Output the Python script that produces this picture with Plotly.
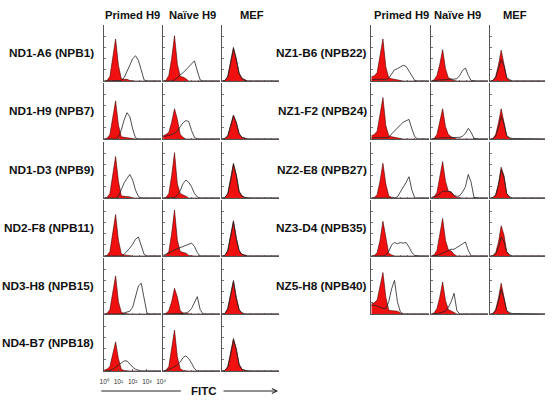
import plotly.graph_objects as go

# ---------------- data ----------------
# FITC intensity bins (log10 decades, 10^0 .. 10^4)
FITC_LOG = [0.0, 0.2, 0.4, 0.6, 0.8, 1.0, 1.2, 1.4, 1.6, 1.8, 2.0,
            2.2, 2.4, 2.6, 2.8, 3.0, 3.2, 3.4, 3.6, 3.8, 4.0]
DECADE_TICKS = [0, 1, 2, 3, 4]
DECADE_LABELS = ["10⁰", "10¹", "10²", "10³", "10⁴"]

COLUMNS = ["Primed H9", "Naïve H9", "MEF"]
LEFT_CLONES = ["ND1-A6 (NPB1)", "ND1-H9 (NPB7)", "ND1-D3 (NPB9)",
               "ND2-F8 (NPB11)", "ND3-H8 (NPB15)", "ND4-B7 (NPB18)"]
RIGHT_CLONES = ["NZ1-B6 (NPB22)", "NZ1-F2 (NPB24)", "NZ2-E8 (NPB27)",
                "NZ3-D4 (NPB35)", "NZ5-H8 (NPB40)"]

# each: [Primed H9, Naive H9, MEF] event counts (% of panel height)
ND1_A6_CTRL = [
    [0, 1, 8, 38, 75, 28, 4, 3, 3, 1, 0, 0, 0, 0, 0, 0, 0, 0, 0, 0, 0],
    [0, 1, 10, 40, 81, 30, 8, 7, 4, 0, 0, 0, 0, 0, 0, 0, 0, 0, 0, 0, 0],
    [0, 1, 8, 33, 60, 40, 14, 5, 2, 0, 0, 0, 0, 0, 0, 0, 0, 0, 0, 0, 0]]
ND1_A6_STAIN = [
    [0, 0, 0, 0, 0, 0, 1, 6, 16, 28, 40, 45, 37, 18, 2, 0, 0, 0, 0, 0, 0],
    [0, 0, 0, 0, 2, 6, 10, 15, 20, 26, 32, 36, 18, 2, 0, 0, 0, 0, 0, 0, 0],
    [0, 1, 7, 31, 58, 38, 13, 4, 1, 0, 0, 0, 0, 0, 0, 0, 0, 0, 0, 0, 0]]

ND1_H9_CTRL = [
    [0, 1, 8, 35, 68, 25, 4, 3, 2, 1, 0, 0, 0, 0, 0, 0, 0, 0, 0, 0, 0],
    [6, 8, 12, 30, 54, 35, 8, 3, 0, 0, 0, 0, 0, 0, 0, 0, 0, 0, 0, 0, 0],
    [0, 1, 6, 24, 43, 30, 10, 3, 1, 0, 0, 0, 0, 0, 0, 0, 0, 0, 0, 0, 0]]
ND1_H9_STAIN = [
    [0, 0, 0, 0, 0, 4, 16, 34, 47, 40, 18, 2, 0, 0, 0, 0, 0, 0, 0, 0, 0],
    [4, 5, 6, 8, 10, 14, 22, 29, 33, 31, 15, 3, 0, 0, 0, 0, 0, 0, 0, 0, 0],
    [0, 1, 5, 22, 41, 29, 9, 3, 1, 0, 0, 0, 0, 0, 0, 0, 0, 0, 0, 0, 0]]

ND1_D3_CTRL = [
    [0, 1, 8, 38, 74, 30, 4, 3, 3, 2, 0, 0, 0, 0, 0, 0, 0, 0, 0, 0, 0],
    [0, 1, 8, 40, 81, 25, 8, 6, 3, 0, 0, 0, 0, 0, 0, 0, 0, 0, 0, 0, 0],
    [0, 1, 8, 32, 62, 42, 12, 4, 1, 0, 0, 0, 0, 0, 0, 0, 0, 0, 0, 0, 0]]
ND1_D3_STAIN = [
    [0, 0, 0, 0, 0, 3, 15, 27, 35, 42, 32, 14, 3, 0, 0, 0, 0, 0, 0, 0, 0],
    [0, 0, 0, 0, 1, 5, 13, 26, 32, 28, 20, 8, 2, 0, 0, 0, 0, 0, 0, 0, 0],
    [0, 1, 7, 30, 60, 40, 11, 3, 1, 0, 0, 0, 0, 0, 0, 0, 0, 0, 0, 0, 0]]

ND2_F8_CTRL = [
    [0, 1, 8, 38, 74, 28, 4, 2, 1, 0, 0, 0, 0, 0, 0, 0, 0, 0, 0, 0, 0],
    [0, 1, 8, 40, 82, 28, 8, 7, 5, 1, 0, 0, 0, 0, 0, 0, 0, 0, 0, 0, 0],
    [0, 1, 10, 38, 63, 33, 10, 3, 1, 0, 0, 0, 0, 0, 0, 0, 0, 0, 0, 0, 0]]
ND2_F8_STAIN = [
    [0, 0, 0, 0, 0, 0, 0, 3, 8, 14, 21, 30, 34, 20, 3, 0, 0, 0, 0, 0, 0],
    [1, 3, 5, 8, 11, 13, 16, 18, 20, 22, 23, 17, 6, 0, 0, 0, 0, 0, 0, 0, 0],
    [0, 1, 9, 36, 61, 31, 9, 3, 1, 0, 0, 0, 0, 0, 0, 0, 0, 0, 0, 0, 0]]

ND3_H8_CTRL = [
    [0, 1, 8, 35, 68, 22, 3, 1, 0, 0, 0, 0, 0, 0, 0, 0, 0, 0, 0, 0, 0],
    [0, 1, 6, 22, 46, 30, 6, 2, 1, 0, 0, 0, 0, 0, 0, 0, 0, 0, 0, 0, 0],
    [0, 1, 10, 38, 60, 30, 8, 2, 0, 0, 0, 0, 0, 0, 0, 0, 0, 0, 0, 0, 0]]
ND3_H8_STAIN = [
    [0, 0, 0, 0, 0, 0, 0, 2, 3, 5, 12, 32, 50, 55, 28, 2, 0, 0, 0, 0, 0],
    [0, 0, 0, 0, 0, 0, 0, 1, 2, 4, 10, 22, 31, 8, 0, 0, 0, 0, 0, 0, 0],
    [0, 1, 9, 36, 58, 28, 7, 2, 0, 0, 0, 0, 0, 0, 0, 0, 0, 0, 0, 0, 0]]

ND4_B7_CTRL = [
    [2, 3, 8, 28, 52, 22, 3, 1, 0, 0, 0, 0, 0, 0, 0, 0, 0, 0, 0, 0, 0],
    [0, 1, 8, 38, 73, 25, 4, 1, 0, 0, 0, 0, 0, 0, 0, 0, 0, 0, 0, 0, 0],
    [0, 1, 8, 30, 58, 40, 12, 3, 1, 0, 0, 0, 0, 0, 0, 0, 0, 0, 0, 0, 0]]
ND4_B7_STAIN = [
    [0, 0, 1, 3, 7, 11, 14, 18, 18, 12, 7, 3, 1, 0, 0, 0, 0, 0, 0, 0, 0],
    [0, 1, 3, 5, 8, 11, 16, 24, 27, 22, 14, 4, 0, 0, 0, 0, 0, 0, 0, 0, 0],
    [0, 1, 7, 28, 56, 38, 11, 3, 1, 0, 0, 0, 0, 0, 0, 0, 0, 0, 0, 0, 0]]

NZ1_B6_CTRL = [
    [8, 9, 15, 45, 75, 25, 6, 4, 3, 2, 0, 0, 0, 0, 0, 0, 0, 0, 0, 0, 0],
    [0, 2, 10, 30, 56, 22, 6, 3, 1, 0, 0, 0, 0, 0, 0, 0, 0, 0, 0, 0, 0],
    [0, 1, 8, 28, 55, 30, 6, 2, 0, 0, 0, 0, 0, 0, 0, 0, 0, 0, 0, 0, 0]]
NZ1_B6_STAIN = [
    [2, 3, 3, 3, 3, 3, 5, 12, 20, 22, 25, 28, 26, 18, 8, 1, 0, 0, 0, 0, 0],
    [0, 1, 1, 2, 2, 3, 3, 3, 3, 4, 10, 19, 23, 10, 1, 0, 0, 0, 0, 0, 0],
    [0, 1, 6, 20, 38, 28, 6, 2, 0, 0, 0, 0, 0, 0, 0, 0, 0, 0, 0, 0, 0]]

NZ1_F2_CTRL = [
    [6, 8, 14, 42, 74, 24, 6, 4, 3, 2, 0, 0, 0, 0, 0, 0, 0, 0, 0, 0, 0],
    [0, 1, 8, 30, 54, 22, 8, 4, 2, 0, 0, 0, 0, 0, 0, 0, 0, 0, 0, 0, 0],
    [0, 1, 8, 28, 54, 30, 6, 2, 0, 0, 0, 0, 0, 0, 0, 0, 0, 0, 0, 0, 0]]
NZ1_F2_STAIN = [
    [2, 2, 2, 2, 2, 2, 3, 9, 15, 20, 25, 30, 33, 35, 18, 4, 0, 0, 0, 0, 0],
    [0, 1, 1, 2, 2, 2, 2, 2, 2, 2, 3, 5, 10, 19, 12, 1, 0, 0, 0, 0, 0],
    [0, 0, 5, 20, 40, 28, 6, 2, 1, 1, 1, 0, 0, 0, 0, 0, 0, 0, 0, 0, 0]]

NZ2_E8_CTRL = [
    [0, 1, 6, 30, 62, 25, 4, 1, 0, 0, 0, 0, 0, 0, 0, 0, 0, 0, 0, 0, 0],
    [0, 2, 10, 35, 65, 30, 12, 11, 4, 1, 0, 0, 0, 0, 0, 0, 0, 0, 0, 0, 0],
    [0, 1, 6, 25, 55, 40, 8, 2, 0, 0, 0, 0, 0, 0, 0, 0, 0, 0, 0, 0, 0]]
NZ2_E8_STAIN = [
    [0, 0, 0, 0, 0, 0, 0, 0, 0, 2, 10, 18, 28, 38, 14, 0, 0, 0, 0, 0, 0],
    [1, 2, 4, 8, 12, 12, 12, 10, 5, 3, 4, 11, 20, 42, 28, 1, 0, 0, 0, 0, 0],
    [0, 0, 5, 22, 50, 38, 8, 2, 0, 0, 0, 0, 0, 0, 0, 0, 0, 0, 0, 0, 0]]

NZ3_D4_CTRL = [
    [0, 1, 6, 28, 62, 35, 5, 2, 0, 0, 0, 0, 0, 0, 0, 0, 0, 0, 0, 0, 0],
    [0, 2, 10, 36, 67, 28, 11, 9, 3, 0, 0, 0, 0, 0, 0, 0, 0, 0, 0, 0, 0],
    [0, 1, 6, 24, 54, 38, 8, 2, 0, 0, 0, 0, 0, 0, 0, 0, 0, 0, 0, 0, 0]]
NZ3_D4_STAIN = [
    [0, 0, 0, 0, 0, 2, 8, 20, 24, 22, 24, 23, 24, 16, 6, 1, 0, 0, 0, 0, 0],
    [0, 0, 1, 3, 5, 8, 10, 12, 12, 15, 18, 21, 25, 10, 0, 0, 0, 0, 0, 0, 0],
    [0, 0, 4, 16, 34, 26, 7, 2, 0, 0, 0, 0, 0, 0, 0, 0, 0, 0, 0, 0, 0]]

NZ5_H8_CTRL = [
    [18, 20, 25, 50, 74, 30, 7, 6, 6, 5, 2, 0, 0, 0, 0, 0, 0, 0, 0, 0, 0],
    [0, 2, 10, 30, 57, 24, 8, 5, 2, 0, 0, 0, 0, 0, 0, 0, 0, 0, 0, 0, 0],
    [0, 1, 8, 28, 55, 30, 6, 2, 0, 0, 0, 0, 0, 0, 0, 0, 0, 0, 0, 0, 0]]
NZ5_H8_STAIN = [
    [15, 16, 14, 12, 10, 10, 22, 45, 60, 22, 4, 0, 0, 0, 0, 0, 0, 0, 0, 0, 0],
    [0, 0, 1, 2, 3, 5, 12, 22, 37, 6, 0, 0, 0, 0, 0, 0, 0, 0, 0, 0, 0],
    [0, 0, 6, 22, 44, 28, 6, 2, 1, 1, 0, 0, 0, 0, 0, 0, 0, 0, 0, 0, 0]]

LEFT_CTRL = [ND1_A6_CTRL, ND1_H9_CTRL, ND1_D3_CTRL, ND2_F8_CTRL, ND3_H8_CTRL, ND4_B7_CTRL]
LEFT_STAIN = [ND1_A6_STAIN, ND1_H9_STAIN, ND1_D3_STAIN, ND2_F8_STAIN, ND3_H8_STAIN, ND4_B7_STAIN]
RIGHT_CTRL = [NZ1_B6_CTRL, NZ1_F2_CTRL, NZ2_E8_CTRL, NZ3_D4_CTRL, NZ5_H8_CTRL]
RIGHT_STAIN = [NZ1_B6_STAIN, NZ1_F2_STAIN, NZ2_E8_STAIN, NZ3_D4_STAIN, NZ5_H8_STAIN]

# ---------------- layout geometry (pixels) ----------------
W, H = 560, 404
ROW_BOTTOM = [81, 139, 198, 256, 314, 371]
PANEL_H = 56
BLOCKS = [
    dict(x0=[101, 161, 221], w=[58, 58, 58], labels=LEFT_CLONES, ctrl=LEFT_CTRL,
         stain=LEFT_STAIN, label_right=93, head_x=[130, 191, 251]),
    dict(x0=[373, 434, 494], w=[59, 58, 56], labels=RIGHT_CLONES, ctrl=RIGHT_CTRL,
         stain=RIGHT_STAIN, label_right=371, head_x=[404, 461, 519]),
]
RED = "#f01010"
AXIS_COLOR = "#555555"
FONT = "Liberation Sans, Arial, sans-serif"

fig = go.Figure()
layout = {}
annotations = []
n = 0
for bi, blk in enumerate(BLOCKS):
    for r, label in enumerate(blk["labels"]):
        bottom = ROW_BOTTOM[r]
        top = bottom - PANEL_H
        annotations.append(dict(
            text="<b>%s</b>" % label, xref="paper", yref="paper",
            x=blk["label_right"] / W, y=1 - (top + bottom) / 2 / H,
            xanchor="right", yanchor="middle", showarrow=False,
            font=dict(family=FONT, size=11.8, color="#111")))
        for c in range(3):
            n += 1
            for arr in (blk["ctrl"][r][c], blk["stain"][r][c]):
                assert len(arr) == len(FITC_LOG)
            xk = "xaxis" if n == 1 else "xaxis%d" % n
            yk = "yaxis" if n == 1 else "yaxis%d" % n
            xr = "x" if n == 1 else "x%d" % n
            yr = "y" if n == 1 else "y%d" % n
            x0 = blk["x0"][c]
            w = blk["w"][c]
            show_lbl = (bi == 0 and r == len(blk["labels"]) - 1 and c == 0)
            layout[xk] = dict(
                domain=[x0 / W, (x0 + w) / W], range=[0, 4], anchor=yr,
                showline=True, linecolor=AXIS_COLOR, linewidth=1,
                showgrid=False, zeroline=False, ticks="inside", ticklen=2,
                tickcolor=AXIS_COLOR, tickwidth=0.8,
                tickmode="array", tickvals=DECADE_TICKS,
                ticktext=DECADE_LABELS if show_lbl else [""] * 5,
                showticklabels=show_lbl,
                tickfont=dict(family=FONT, size=6.5, color="#333"),
                ticklabelstandoff=4,
                minor=dict(ticks="inside", ticklen=1, dtick=0.5,
                           tickcolor=AXIS_COLOR, showgrid=False),
                fixedrange=True)
            layout[yk] = dict(
                domain=[1 - bottom / H, 1 - top / H], range=[0, 100], anchor=xr,
                showline=True, linecolor=AXIS_COLOR, linewidth=1,
                showgrid=False, zeroline=False, ticks="inside", ticklen=2,
                tickcolor=AXIS_COLOR, tickwidth=0.8, dtick=20,
                showticklabels=False, fixedrange=True)
            fig.add_trace(go.Scatter(
                x=FITC_LOG, y=blk["ctrl"][r][c], xaxis=xr, yaxis=yr,
                mode="lines", fill="tozeroy", fillcolor=RED,
                line=dict(color="#4a0000", width=0.6),
                hoverinfo="skip", showlegend=False))
            fig.add_trace(go.Scatter(
                x=FITC_LOG, y=blk["stain"][r][c], xaxis=xr, yaxis=yr,
                mode="lines", line=dict(color="#222222", width=0.8),
                hoverinfo="skip", showlegend=False))
    for c, name in enumerate(COLUMNS):
        annotations.append(dict(
            text="<b>%s</b>" % name, xref="paper", yref="paper",
            x=blk["head_x"][c] / W, y=1 - 15 / H, xanchor="center",
            yanchor="middle", showarrow=False,
            font=dict(family=FONT, size=11.2, color="#111")))

# FITC axis caption with arrow
annotations.append(dict(
    text="<b>FITC</b>", xref="paper", yref="paper", x=203 / W, y=1 - 391 / H,
    xanchor="center", yanchor="middle", showarrow=False,
    font=dict(family=FONT, size=11.5, color="#111")))
annotations.append(dict(
    text="", xref="paper", yref="paper", x=278 / W, y=1 - 391 / H,
    ax=-56, ay=0, showarrow=True, arrowhead=5, arrowsize=1, arrowwidth=1,
    arrowcolor="#222"))
shapes = [dict(type="line", xref="paper", yref="paper",
               x0=98 / W, x1=179 / W, y0=1 - 391 / H, y1=1 - 391 / H,
               line=dict(color="#222", width=1))]

fig.update_layout(
    width=W, height=H, margin=dict(l=0, r=0, t=0, b=0),
    paper_bgcolor="white", plot_bgcolor="white",
    annotations=annotations, shapes=shapes, showlegend=False,
    **layout)

fig.write_html("out.html", config={"displayModeBar": False, "staticPlot": True},
               post_script="document.body.style.margin='0';document.body.style.padding='0';")
